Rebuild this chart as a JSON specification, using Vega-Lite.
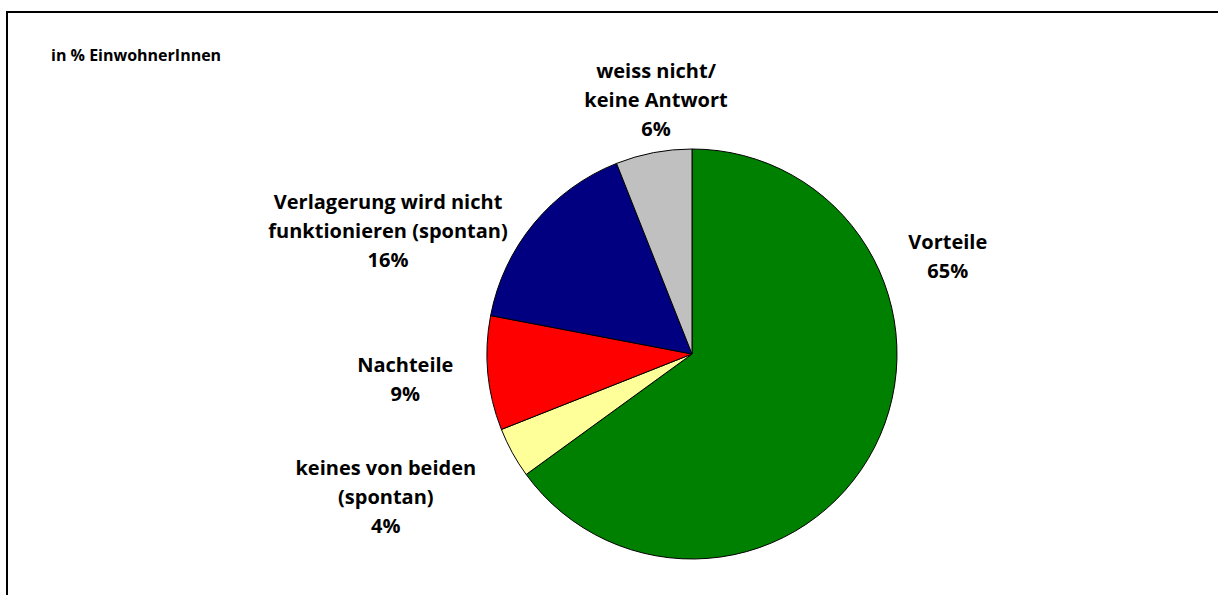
{
  "$schema": "https://vega.github.io/schema/vega-lite/v6.json",
  "width": 1370,
  "height": 684,
  "padding": {"left": 7, "top": 12, "right": -159, "bottom": -101},
  "autosize": {"type": "none"},
  "background": "white",
  "view": {"stroke": "black", "strokeWidth": 2, "fill": "white"},
  "config": {"font": "Open Sans"},
  "title": {
    "text": "in % EinwohnerInnen",
    "anchor": "start",
    "frame": "group",
    "orient": "top",
    "offset": -60,
    "dx": 44,
    "baseline": "middle",
    "fontSize": 16,
    "fontWeight": "bold",
    "font": "Open Sans",
    "color": "black"
  },
  "data": {
    "values": [
      {"kategorie": "Vorteile", "label": "Vorteile\n65%", "anteil": 65, "reihenfolge": 1},
      {"kategorie": "keines von beiden (spontan)", "label": "keines von beiden\n(spontan)\n4%", "anteil": 4, "reihenfolge": 2},
      {"kategorie": "Nachteile", "label": "Nachteile\n9%", "anteil": 9, "reihenfolge": 3},
      {"kategorie": "Verlagerung wird nicht funktionieren (spontan)", "label": "Verlagerung wird nicht\nfunktionieren (spontan)\n16%", "anteil": 16, "reihenfolge": 4},
      {"kategorie": "weiss nicht/keine Antwort", "label": "weiss nicht/\nkeine Antwort\n6%", "anteil": 6, "reihenfolge": 5}
    ]
  },
  "transform": [
    {"stack": "anteil", "groupby": [], "sort": [{"field": "reihenfolge"}], "as": ["start", "ende"]},
    {"calculate": "(datum.start + datum.ende) / 2", "as": "mitte"}
  ],
  "layer": [
    {
      "mark": {"type": "arc", "outerRadius": 205, "stroke": "black", "strokeWidth": 1},
      "encoding": {
        "theta": {"field": "start", "type": "quantitative", "stack": null, "scale": {"domain": [0, 100]}},
        "theta2": {"field": "ende"},
        "color": {
          "field": "kategorie",
          "type": "nominal",
          "scale": {
            "domain": ["Vorteile", "keines von beiden (spontan)", "Nachteile", "Verlagerung wird nicht funktionieren (spontan)", "weiss nicht/keine Antwort"],
            "range": ["#008000", "#FFFF99", "#FF0000", "#000080", "#C0C0C0"]
          },
          "legend": null
        }
      }
    },
    {
      "transform": [{"filter": "datum.reihenfolge === 1"}],
      "mark": {"type": "text", "radius": 268, "dx": 17, "dy": -233, "lineBreak": "\n", "lineHeight": 29, "fontSize": 20, "fontWeight": "bold", "font": "Open Sans", "align": "center", "baseline": "middle", "color": "black"},
      "encoding": {
        "theta": {"field": "mitte", "type": "quantitative", "stack": null, "scale": {"domain": [0, 100]}},
        "text": {"field": "label"}
      }
    },
    {
      "transform": [{"filter": "datum.reihenfolge === 2"}],
      "mark": {"type": "text", "radius": 338, "dx": -10, "dy": -48, "lineBreak": "\n", "lineHeight": 29, "fontSize": 20, "fontWeight": "bold", "font": "Open Sans", "align": "center", "baseline": "middle", "color": "black"},
      "encoding": {
        "theta": {"field": "mitte", "type": "quantitative", "stack": null, "scale": {"domain": [0, 100]}},
        "text": {"field": "label"}
      }
    },
    {
      "transform": [{"filter": "datum.reihenfolge === 3"}],
      "mark": {"type": "text", "radius": 288, "dx": 0, "dy": -15, "lineBreak": "\n", "lineHeight": 29, "fontSize": 20, "fontWeight": "bold", "font": "Open Sans", "align": "center", "baseline": "middle", "color": "black"},
      "encoding": {
        "theta": {"field": "mitte", "type": "quantitative", "stack": null, "scale": {"domain": [0, 100]}},
        "text": {"field": "label"}
      }
    },
    {
      "transform": [{"filter": "datum.reihenfolge === 4"}],
      "mark": {"type": "text", "radius": 327, "dx": -52, "dy": 57, "lineBreak": "\n", "lineHeight": 29, "fontSize": 20, "fontWeight": "bold", "font": "Open Sans", "align": "center", "baseline": "middle", "color": "black"},
      "encoding": {
        "theta": {"field": "mitte", "type": "quantitative", "stack": null, "scale": {"domain": [0, 100]}},
        "text": {"field": "label"}
      }
    },
    {
      "transform": [{"filter": "datum.reihenfolge === 5"}],
      "mark": {"type": "text", "radius": 256, "dx": 12, "dy": -31, "lineBreak": "\n", "lineHeight": 29, "fontSize": 20, "fontWeight": "bold", "font": "Open Sans", "align": "center", "baseline": "middle", "color": "black"},
      "encoding": {
        "theta": {"field": "mitte", "type": "quantitative", "stack": null, "scale": {"domain": [0, 100]}},
        "text": {"field": "label"}
      }
    }
  ]
}
